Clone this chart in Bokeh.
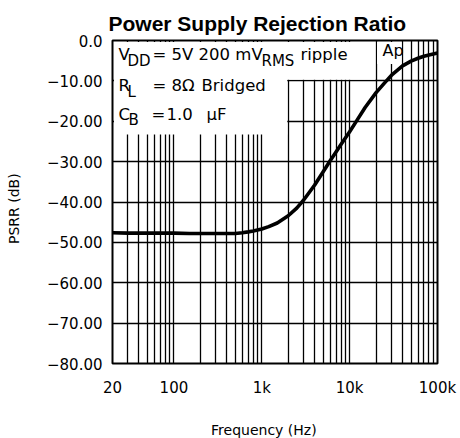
import math
from bokeh.plotting import figure
from bokeh.models import FixedTicker, Label, Range1d
from bokeh.embed import file_html
from bokeh.resources import INLINE

# ---------------- data ----------------
freq_hz = [20, 30, 50, 70, 100, 150, 200, 300, 400, 500, 600, 700, 800, 1000,
           1200, 1500, 2000, 2500, 3000, 4000, 5000, 6000, 7000, 8000, 10000,
           12000, 15000, 20000, 25000, 30000, 40000, 50000, 60000, 70000,
           80000, 100000]
psrr_db = [-47.6, -47.7, -47.7, -47.7, -47.7, -47.8, -47.8, -47.8, -47.8, -47.8,
           -47.6, -47.4, -47.2, -46.7, -46.1, -45.2, -43.4, -41.5, -39.5, -35.8,
           -32.5, -29.8, -27.6, -25.7, -22.6, -19.9, -16.6, -12.9, -10.5, -8.6,
           -6.3, -5.1, -4.4, -3.9, -3.6, -3.1]

x_major = [20, 100, 1000, 10000, 100000]
x_labels = ["20", "100", "1k", "10k", "100k"]
x_minor = [30, 40, 50, 60, 70, 80, 90,
           200, 300, 400, 500, 600, 700, 800, 900,
           2000, 3000, 4000, 5000, 6000, 7000, 8000, 9000,
           20000, 30000, 40000, 50000, 60000, 70000, 80000, 90000]
y_ticks = [0, -10, -20, -30, -40, -50, -60, -70, -80]
y_labels = ["0.0", "\u221210.00", "\u221220.00", "\u221230.00", "\u221240.00",
            "\u221250.00", "\u221260.00", "\u221270.00", "\u221280.00"]

# ---------------- layout ----------------
FL, FT, FW, FH = 112, 40, 325, 323   # frame in canvas px
NB = "\u00a0"

def fx(px):  # canvas px -> frequency
    return 20 * 5000 ** ((px - FL) / FW)

def fy(py):  # canvas px -> dB
    return -80 * (py - FT) / FH

p = figure(frame_width=FW, frame_height=FH, x_axis_type="log",
           x_range=Range1d(20, 100000), y_range=Range1d(-80, 0),
           output_backend="svg", toolbar_location=None,
           min_border_left=FL, min_border_right=23, min_border_top=FT,
           min_border_bottom=75)
p.background_fill_color = "white"
p.border_fill_color = "white"
p.outline_line_color = "black"
p.outline_line_width = 2

p.title.text = "Power Supply Rejection Ratio"
p.title.text_font = "Liberation Sans"
p.title.text_font_size = "21px"
p.title.text_font_style = "bold"
p.title.text_color = "black"
p.title.align = "left"
p.title.offset = -4
p.title.standoff = 12

xt = FixedTicker(ticks=x_major, minor_ticks=x_minor)
yt = FixedTicker(ticks=y_ticks, minor_ticks=[])
p.xaxis.ticker = xt
p.yaxis.ticker = yt
p.xgrid.ticker = xt
p.ygrid.ticker = yt
p.xaxis.major_label_overrides = {v: s for v, s in zip(x_major, x_labels)}
p.yaxis.major_label_overrides = {v: s for v, s in zip(y_ticks, y_labels)}

for ax in (p.xaxis, p.yaxis):
    ax.axis_line_color = None
    ax.major_tick_line_color = None
    ax.minor_tick_line_color = None
    ax.major_tick_out = 0
    ax.major_tick_in = 0
    ax.minor_tick_out = 0
    ax.minor_tick_in = 0
    ax.major_label_text_font = "DejaVu Sans"
    ax.major_label_text_font_size = "15px"
    ax.major_label_text_color = "black"
    ax.axis_label_text_font = "DejaVu Sans"
    ax.axis_label_text_font_size = "14px"
    ax.axis_label_text_font_style = "normal"
    ax.axis_label_text_color = "black"
p.xaxis.major_label_standoff = 15
p.yaxis.major_label_standoff = 10

# trailing no-break spaces nudge the centred titles like the reference
p.yaxis.axis_label = "PSRR (dB)" + NB * 3
p.yaxis.axis_label_standoff = 22
p.xaxis.axis_label = "Frequency (Hz)" + NB * 5
p.xaxis.axis_label_standoff = 22

for g in (p.xgrid, p.ygrid):
    g.grid_line_color = "black"
    g.grid_line_width = 1.3
p.xgrid.minor_grid_line_color = "black"
p.xgrid.minor_grid_line_width = 1.3

# white boxes behind the annotation text
p.quad(left=[fx(113.5), fx(113.5), 20500], right=[19500, 1950, 39000],
       top=[fy(41.5), fy(41.5), fy(41.5)], bottom=[-9.75, -23.3, -5.8],
       fill_color="white", line_color=None)

p.line(freq_hz, psrr_db, line_color="black", line_width=3.6)

def lab(text, px, py, size="16.5px"):
    p.add_layout(Label(x=fx(px), y=fy(py), text=text, text_font="DejaVu Sans",
                       text_font_size=size, text_align="left",
                       text_baseline="alphabetic", text_color="black"))

# annotation lines
lab("V", 118, 54)
lab("DD", 127, 60, size="15px")
lab("= 5V 200 mV", 152, 54)
lab("RMS", 261, 60, size="15px")
lab("ripple", 300, 54)

lab("R", 118, 85)
lab("L", 127, 91, size="15px")
lab("= 8\u03a9", 152, 85)
lab("Bridged", 201, 85)

lab("C", 118, 113.5)
lab("B", 128, 119.5, size="15px")
lab("=", 151, 113.5)
lab("1.0", 166, 113.5)
lab("\u03bcF", 206, 113.5)

lab("Ap", 382, 50, size="16px")

open("out.html", "w").write(file_html(p, INLINE))
